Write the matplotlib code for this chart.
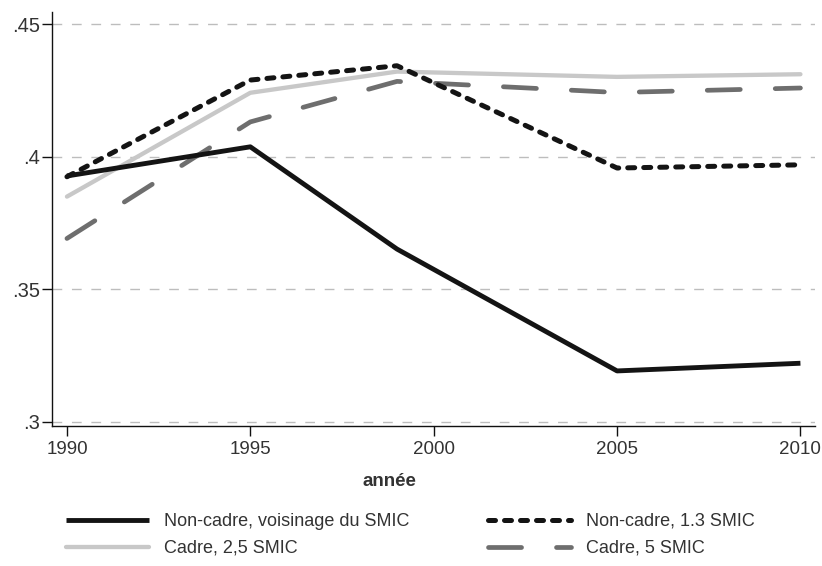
import matplotlib
matplotlib.use('Agg')
import matplotlib.pyplot as plt
from matplotlib.ticker import FuncFormatter

# ---------------------------------------------------------------------------
# Data
# ---------------------------------------------------------------------------
YEARS        = [1990, 1995, 1999, 2005, 2010]
NC_SMIC      = [0.3928, 0.4038, 0.3652, 0.3192, 0.3221]   # Non-cadre, voisinage du SMIC
NC_13_SMIC   = [0.3925, 0.4290, 0.4344, 0.3958, 0.3970]   # Non-cadre, 1.3 SMIC
C_25_SMIC    = [0.3850, 0.4242, 0.4322, 0.4302, 0.4312]   # Cadre, 2,5 SMIC
C_5_SMIC     = [0.3692, 0.4132, 0.4285, 0.4243, 0.4260]   # Cadre, 5 SMIC

LABELS = ['Non-cadre, voisinage du SMIC', 'Non-cadre, 1.3 SMIC',
          'Cadre, 2,5 SMIC', 'Cadre, 5 SMIC']
X_TICKS = [1990, 1995, 2000, 2005, 2010]
Y_TICKS = [0.30, 0.35, 0.40, 0.45]

# ---------------------------------------------------------------------------
# Style
# ---------------------------------------------------------------------------
FONT   = ['Liberation Sans', 'DejaVu Sans']
TXT    = '#333333'
BLACK  = '#141414'
LGREY  = '#c8c8c8'
DGREY  = '#6e6e6e'
GRIDC  = '#bdbdbd'

plt.rcParams['font.family'] = FONT

fig = plt.figure(figsize=(8.22, 5.66), dpi=100)
ax = fig.add_axes([0.0636, 0.2473, 0.928, 0.732])

l1, = ax.plot(YEARS, NC_SMIC, color=BLACK, lw=3.5, solid_capstyle='butt', zorder=4)
l2, = ax.plot(YEARS, NC_13_SMIC, color=BLACK, lw=3.6,
              linestyle=(0, (1.4, 1.8)), dash_capstyle='round', zorder=5)
l3, = ax.plot(YEARS, C_25_SMIC, color=LGREY, lw=3.1, solid_capstyle='round', zorder=3)
l4, = ax.plot(YEARS, C_5_SMIC, color=DGREY, lw=3.4,
              linestyle=(0, (7.0, 7.4)), dash_capstyle='round', zorder=3)

ax.set_xlim(1989.6, 2010.4)
ax.set_ylim(0.2984, 0.4548)
ax.set_xticks(X_TICKS)
ax.set_yticks(Y_TICKS)
ax.yaxis.set_major_formatter(FuncFormatter(lambda v, _: f'{v:g}'.lstrip('0')))

for y in Y_TICKS:
    ax.axhline(y, color=GRIDC, lw=1.0, linestyle=(0, (7, 7)), zorder=1)

for side in ['top', 'right']:
    ax.spines[side].set_visible(False)
for side in ['left', 'bottom']:
    ax.spines[side].set_linewidth(1.0)
    ax.spines[side].set_color('#111111')

ax.tick_params(axis='both', direction='out', length=7, width=1.0,
               colors='#111111', labelcolor=TXT)
ax.tick_params(axis='x', labelsize=13.5, pad=4)
ax.tick_params(axis='y', labelsize=14.5, pad=2)

fig.text(389 / 822, 1 - 481 / 566, 'année', ha='center', va='center',
         fontsize=13.5, fontweight='bold', color=TXT)

common = dict(frameon=False, loc='upper left', borderpad=0, borderaxespad=0,
              handlelength=4.6, handletextpad=0.8, labelspacing=0.55,
              prop={'family': FONT, 'size': 13}, labelcolor=TXT)
leg1 = fig.legend([l1, l3], [LABELS[0], LABELS[2]],
                  bbox_to_anchor=(66 / 822, 1 - 513 / 566), **common)
leg2 = fig.legend([l2, l4], [LABELS[1], LABELS[3]],
                  bbox_to_anchor=(488 / 822, 1 - 513 / 566), **common)

fig.savefig('out.png', dpi=100, facecolor='white')
